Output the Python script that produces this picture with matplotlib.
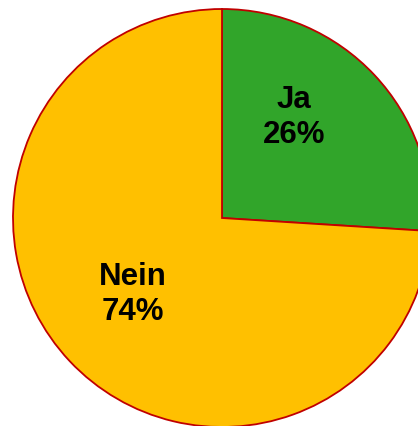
import matplotlib.pyplot as plt

# Antworten (Prozent)
labels = ["Ja", "Nein"]
values = [26, 74]
colors = ["#31a52a", "#ffc000"]

# Textpositionen der Beschriftungen (im Kreis, Radius = 1)
text_pos = [(0.345, 0.483), (-0.426, -0.364)]

fig = plt.figure(figsize=(4.18, 4.26), dpi=100)
ax = fig.add_axes([0, 0, 1, 1])

wedges, _ = ax.pie(values, colors=colors, startangle=90, counterclock=False,
                   radius=1.0, center=(0, 0),
                   wedgeprops={"edgecolor": "#c00000", "linewidth": 1.3})

for (x, y), lab, v in zip(text_pos, labels, values):
    ax.text(x, y, "%s\n%d%%" % (lab, v), ha="center", va="center",
            fontsize=22.5, fontweight="bold", family="Liberation Sans",
            linespacing=1.22, color="black")

# Kreis ist rechts und unten abgeschnitten wie im Original
ax.set_xlim(-222 / 209, (418 - 222) / 209)
ax.set_ylim(-208 / 209, (426 - 208) / 209)
ax.set_aspect("equal")
ax.axis("off")

fig.savefig("out.png", dpi=100)
